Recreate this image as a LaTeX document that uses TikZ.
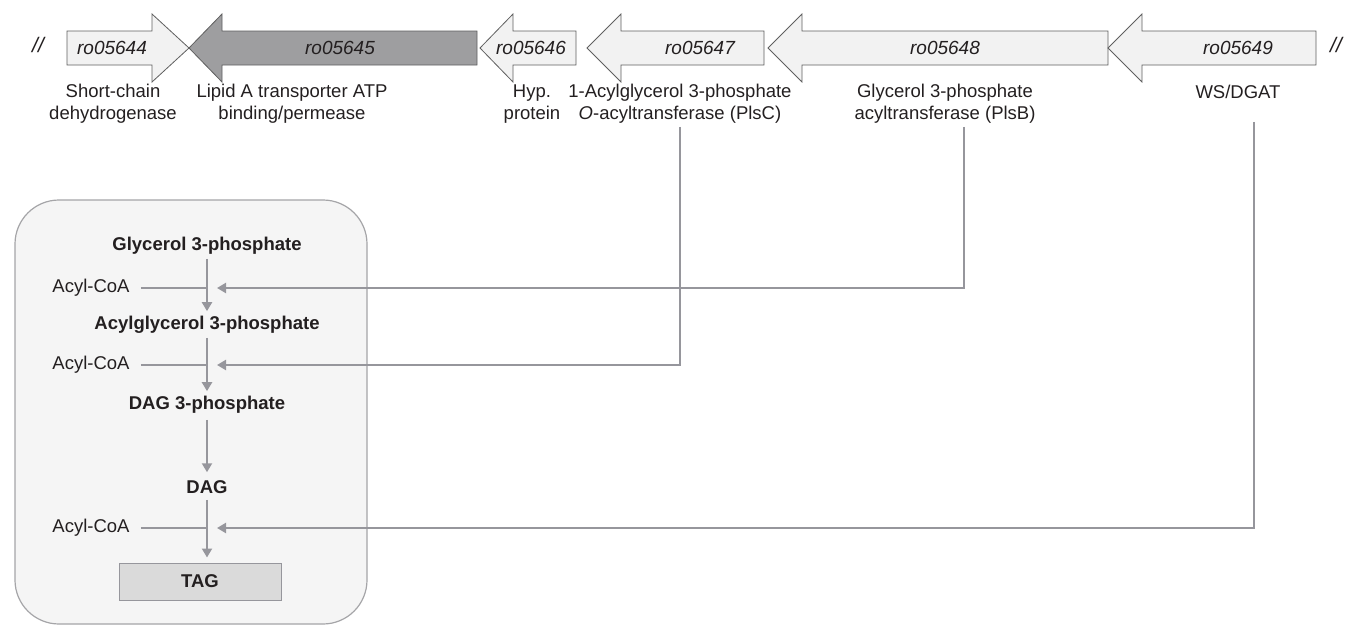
\documentclass[tikz,border=0pt]{standalone}
\usepackage{fontspec}
\setmainfont{Liberation Sans}
\usetikzlibrary{arrows.meta}

\definecolor{linegray}{RGB}{150,150,156}
\definecolor{genefill}{RGB}{242,242,242}
\definecolor{geneline}{RGB}{95,95,95}
\definecolor{darkgene}{RGB}{158,158,160}
\definecolor{cellfill}{RGB}{245,245,245}
\definecolor{cellline}{RGB}{165,165,168}
\definecolor{tagfill}{RGB}{218,218,218}
\definecolor{txt}{RGB}{35,31,32}

\begin{document}
\begin{tikzpicture}[x=1pt,y=-1pt,
  every node/.style={font=\fontsize{18.5}{22}\selectfont, text=txt, inner sep=0pt},
  gene/.style={draw=geneline, line width=0.8pt, fill=genefill},
  genename/.style={font=\fontsize{19}{22}\selectfont\itshape},
  genelabel/.style={align=center},
  metab/.style={font=\fontsize{18.5}{22}\selectfont\bfseries},
  flow/.style={draw=linegray, line width=2.8pt, -{Triangle[length=9pt,width=10pt]}},
  feed/.style={draw=linegray, line width=2.8pt}]
\useasboundingbox (0,0) rectangle (1347,627);

% gene cluster
\node[genename, font=\fontsize{21}{22}\selectfont\itshape] (brkL) at (38,45) {//};
\draw[gene] (67,31) -- (152,31) -- (152,14) -- (189,48) -- (152,82) -- (152,65) -- (67,65) -- cycle;
\draw[gene, fill=darkgene] (189,48) -- (222,14) -- (222,31) -- (477,31) -- (477,65) -- (222,65) -- (222,82) -- cycle;
\draw[gene] (480,48) -- (513,14) -- (513,31) -- (576,31) -- (576,65) -- (513,65) -- (513,82) -- cycle;
\draw[gene] (587,48) -- (621,14) -- (621,31) -- (764,31) -- (764,65) -- (621,65) -- (621,82) -- cycle;
\draw[gene] (768,48) -- (802,14) -- (802,31) -- (1108,31) -- (1108,65) -- (802,65) -- (802,82) -- cycle;
\draw[gene] (1108,48) -- (1142,14) -- (1142,31) -- (1316,31) -- (1316,65) -- (1142,65) -- (1142,82) -- cycle;
\node[genename, font=\fontsize{21}{22}\selectfont\itshape] (brkR) at (1336,45) {//};

\node[genename] (n44) at (112,48) {ro05644};
\node[genename] (n45) at (340,48) {ro05645};
\node[genename] (n46) at (531,48) {ro05646};
\node[genename] (n47) at (700,48) {ro05647};
\node[genename] (n48) at (945,48) {ro05648};
\node[genename] (n49) at (1238,48) {ro05649};

\node[genelabel] (l44) at (113,104) {Short-chain\\dehydrogenase};
\node[genelabel] (l45) at (292,104) {Lipid A transporter ATP\\binding/permease};
\node[genelabel] (l46) at (532,104) {Hyp.\\protein};
\node[genelabel] (plsC) at (680,104) {1-Acylglycerol 3-phosphate\\\textit{O}-acyltransferase (PlsC)};
\node[genelabel] (plsB) at (945,104) {Glycerol 3-phosphate\\acyltransferase (PlsB)};
\node[genelabel, anchor=north] (wsdgat) at (1238,85) {WS/DGAT};

% TAG pathway
\draw[draw=cellline, fill=cellfill, line width=1.2pt, rounded corners=44pt] (15,200) rectangle (367,624);

\node[metab] (g3p) at (207,246) {Glycerol 3-phosphate};
\node[metab] (acg3p) at (207,325) {Acylglycerol 3-phosphate};
\node[metab] (dag3p) at (207,405) {DAG 3-phosphate};
\node[metab] (dag) at (207,487) {DAG};
\node[metab, draw=linegray, line width=1pt, fill=tagfill, minimum width=162pt, minimum height=37pt] (tag) at (200,581.5) {TAG};

\node (acyl1) at (91,288) {Acyl-CoA};
\node (acyl2) at (91,365) {Acyl-CoA};
\node (acyl3) at (91,528) {Acyl-CoA};
\coordinate (j1) at (207,288);
\coordinate (j2) at (207,365);
\coordinate (j3) at (207,528);

\draw[flow, shorten <=4pt, shorten >=5pt] (g3p) -- (acg3p);
\draw[flow, shorten <=4pt, shorten >=5pt] (acg3p) -- (dag3p);
\draw[flow, shorten <=6pt, shorten >=8pt] (dag3p) -- (dag);
\draw[flow, shorten <=6pt, shorten >=5pt] (dag) -- (tag.north -| dag);

\draw[feed] ([xshift=11pt]acyl1.east) -- (j1);
\draw[feed] ([xshift=11pt]acyl2.east) -- (j2);
\draw[feed] ([xshift=11pt]acyl3.east) -- (j3);

% enzymes to steps
\draw[flow, shorten <=3pt] (plsB.south) ++(19,0) |- ([xshift=10pt]j1);
\draw[flow, shorten <=3pt] (plsC.south) |- ([xshift=10pt]j2);
\draw[flow, shorten <=3pt] ([xshift=16pt]wsdgat.south) ++(0,20) |- ([xshift=10pt]j3);

\end{tikzpicture}
\end{document}
